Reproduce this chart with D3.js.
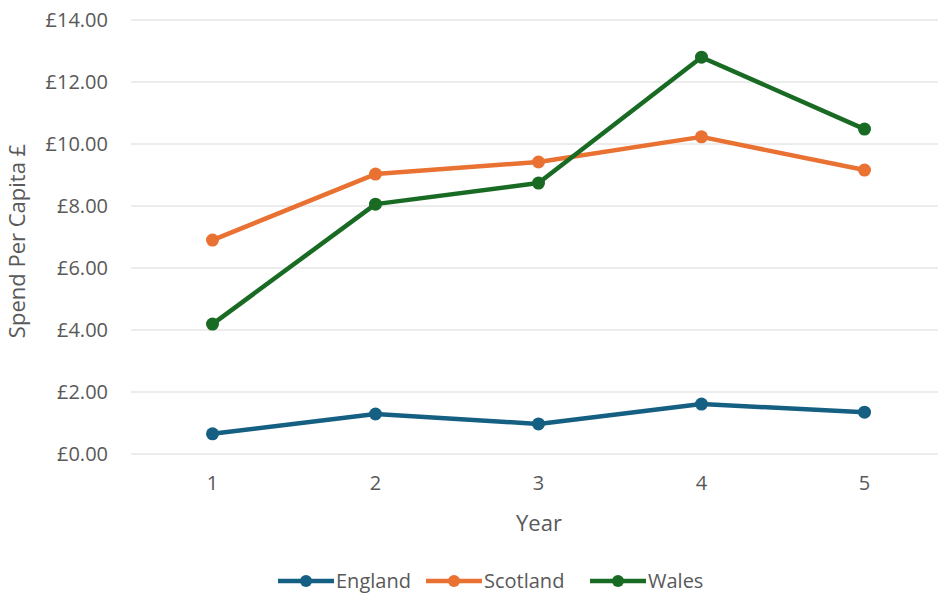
<!DOCTYPE html>
<html>
<head>
<meta charset="utf-8">
<script src="https://cdn.jsdelivr.net/npm/d3@7"></script>
<style>
  body { margin: 0; background: #fff; }
  text { font-family: "Open Sans", sans-serif; fill: #595959; }
</style>
</head>
<body>
<svg width="938" height="595"></svg>
<script>
// chart data
const years = ["1", "2", "3", "4", "5"];
const seriesNames = ["England", "Scotland", "Wales"];
const england = [0.65, 1.29, 0.97, 1.61, 1.35];
const scotland = [6.90, 9.03, 9.42, 10.23, 9.16];
const wales = [4.19, 8.06, 8.74, 12.80, 10.48];
const yTicks = [0, 2, 4, 6, 8, 10, 12, 14];

const colors = ["#156082", "#E97132", "#196B24"];
const seriesValues = [england, scotland, wales];

const svg = d3.select("svg");

const x = d3.scaleBand().domain(years).range([131, 946]);
const y = d3.scaleLinear().domain([0, 14]).range([454, 20]);

// gridlines
svg.append("g")
  .selectAll("line")
  .data(yTicks)
  .enter()
  .append("line")
  .attr("x1", 131)
  .attr("x2", 946)
  .attr("y1", (d) => y(d))
  .attr("y2", (d) => y(d))
  .attr("stroke", "#d9d9d9")
  .attr("stroke-width", 1.2);

// y axis labels
const yAxis = d3.axisLeft(y)
  .tickValues(yTicks)
  .tickFormat((d) => "£" + d3.format(".2f")(d))
  .tickSize(0)
  .tickPadding(23);

svg.append("g")
  .attr("transform", "translate(131,0)")
  .call(yAxis)
  .call((g) => g.select(".domain").remove())
  .call((g) => g.selectAll("text")
    .style("font-size", "20px")
    .attr("fill", "#595959"));

// x axis labels
const xAxis = d3.axisBottom(x).tickSize(0).tickPadding(22);
svg.append("g")
  .attr("transform", "translate(0,454)")
  .call(xAxis)
  .call((g) => g.select(".domain").remove())
  .call((g) => g.selectAll("text")
    .style("font-size", "20px")
    .attr("fill", "#595959"));

// axis titles
svg.append("text")
  .attr("transform", "translate(25,241) rotate(-90)")
  .attr("text-anchor", "middle")
  .style("font-size", "22px")
  .text("Spend Per Capita £");

svg.append("text")
  .attr("x", 539)
  .attr("y", 531)
  .attr("text-anchor", "middle")
  .style("font-size", "22px")
  .text("Year");

// lines and markers
const line = d3.line()
  .x((d, i) => x(years[i]) + x.bandwidth() / 2)
  .y((d) => y(d));

seriesValues.forEach((vals, s) => {
  const g = svg.append("g");
  g.append("path")
    .datum(vals)
    .attr("fill", "none")
    .attr("stroke", colors[s])
    .attr("stroke-width", 4.5)
    .attr("stroke-linejoin", "round")
    .attr("d", line);
  g.selectAll("circle")
    .data(vals)
    .enter()
    .append("circle")
    .attr("cx", (d, i) => x(years[i]) + x.bandwidth() / 2)
    .attr("cy", (d) => y(d))
    .attr("r", 6.5)
    .attr("fill", colors[s]);
});

// legend
const legendX = [278, 426, 590];
const legend = svg.append("g")
  .selectAll("g")
  .data(seriesNames)
  .enter()
  .append("g")
  .attr("transform", (d, i) => `translate(${legendX[i]},581)`);

legend.append("line")
  .attr("x1", 0)
  .attr("x2", 56)
  .attr("stroke", (d, i) => colors[i])
  .attr("stroke-width", 4.5);

legend.append("circle")
  .attr("cx", 28)
  .attr("r", 6)
  .attr("fill", (d, i) => colors[i]);

legend.append("text")
  .attr("x", 58)
  .attr("dy", "0.35em")
  .style("font-size", "20px")
  .text((d) => d);
</script>
</body>
</html>
